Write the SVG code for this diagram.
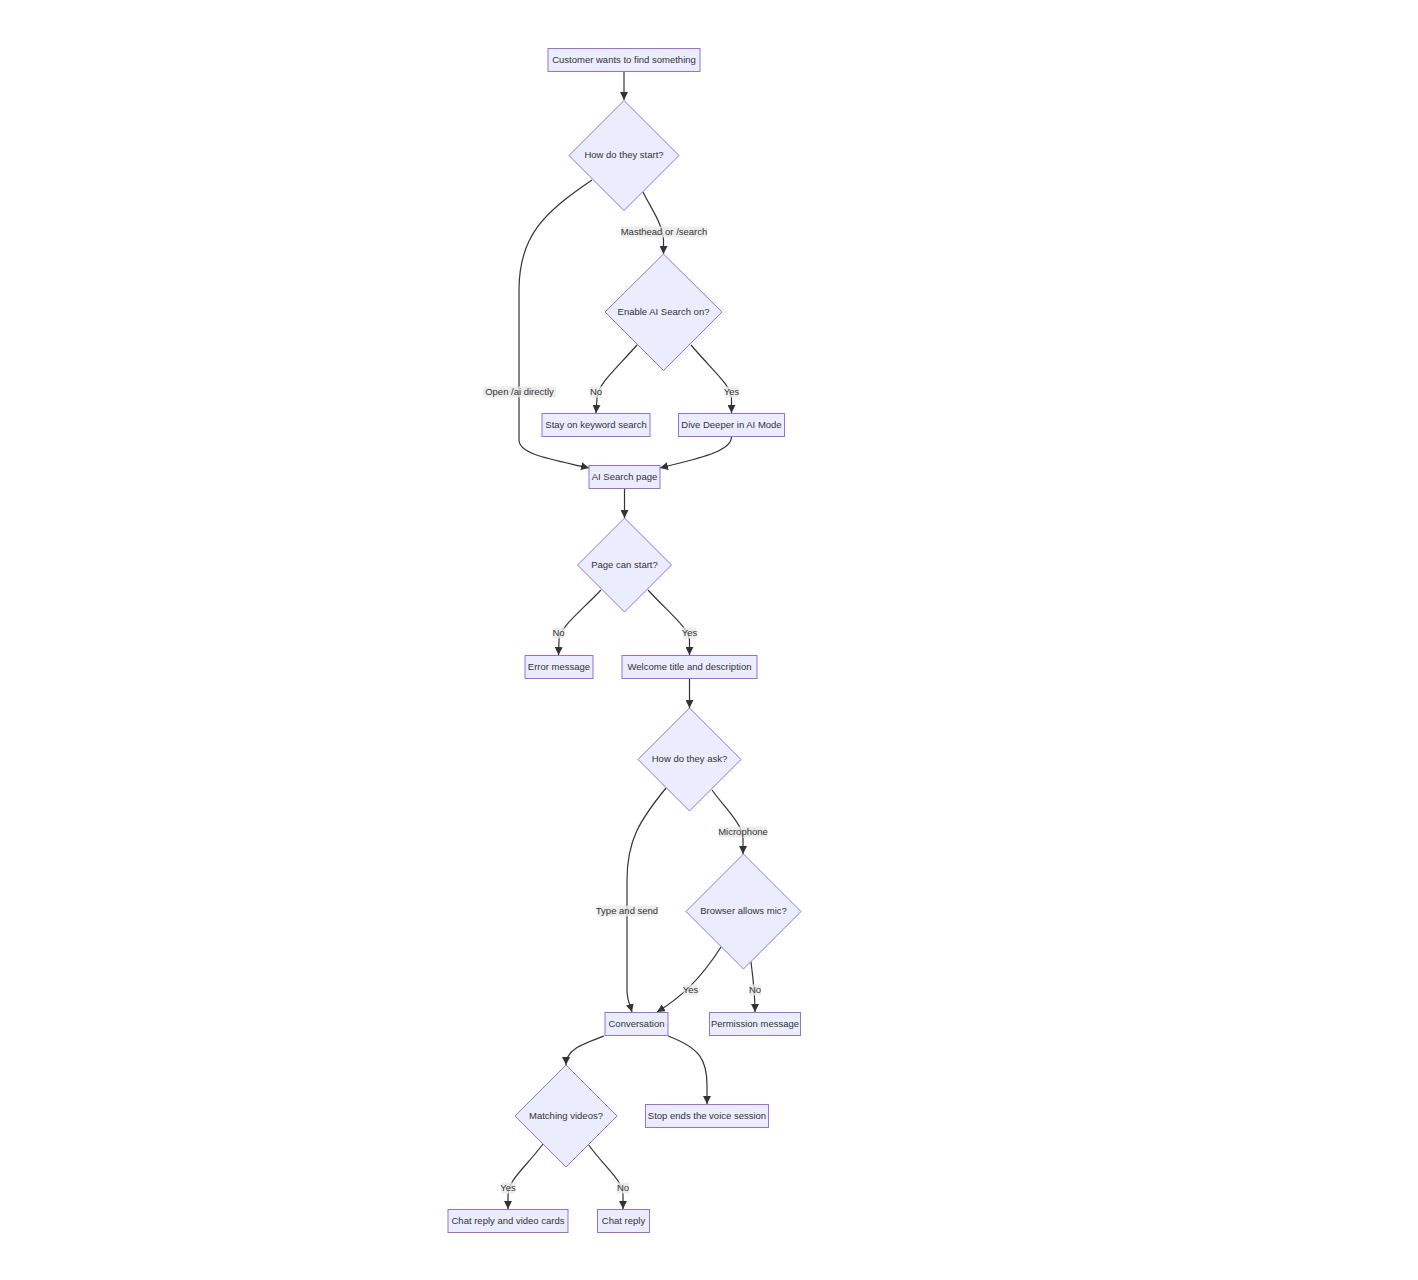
<svg xmlns="http://www.w3.org/2000/svg" width="1418" height="1280" viewBox="0 0 1418 1280">
<style>
.node rect, .node polygon { fill: #ECECFF; stroke: #9370DB; stroke-width: 1; }
.node text { font-family: "Liberation Sans", Arial, sans-serif; font-size: 9.5px; fill: #333; text-anchor: middle; dominant-baseline: central; }
.edge { fill: none; stroke: #333; stroke-width: 1.2; marker-end: url(#arrow); }
.lbl rect { fill: #e8e8e8; fill-opacity: 0.8; }
.lbl text { font-family: "Liberation Sans", Arial, sans-serif; font-size: 9.5px; fill: #333; text-anchor: middle; dominant-baseline: central; }
</style>
<defs>
<marker id="arrow" viewBox="0 0 10 10" refX="10" refY="5" markerUnits="userSpaceOnUse" markerWidth="8" markerHeight="8" orient="auto">
<path d="M0,0 L10,5 L0,10 z" fill="#333"/>
</marker>
</defs>
<rect width="1418" height="1280" fill="#ffffff"/>
<g id="connectors">
<path class="edge" d="M624,71 L624,100"/>
<path class="edge" d="M643,192 C652,210 663,225 663.5,240 L663.5,254"/>
<path class="edge" d="M592,180 C545,212 519,235 519,290 L519,440 C519,455 555,460 589,468"/>
<path class="edge" d="M637,345 C615,370 597,385 597,398 L596,413"/>
<path class="edge" d="M691,345 C712,370 731,385 731.5,398 L731.5,413"/>
<path class="edge" d="M731.5,437 C731.5,452 695,459 660,468"/>
<path class="edge" d="M624.5,489 L624.5,518"/>
<path class="edge" d="M601,590 C580,612 559,628 559,640 L558.5,655"/>
<path class="edge" d="M648,590 C668,612 689,628 689.5,640 L689.5,655"/>
<path class="edge" d="M689.5,678 L689.5,708"/>
<path class="edge" d="M712,790 C725,808 743,825 743,838 L743,854"/>
<path class="edge" d="M666,788 C640,820 627,840 627,880 L627,990 C627,1000 630,1005 632,1012"/>
<path class="edge" d="M721,947 C700,980 680,998 657,1012"/>
<path class="edge" d="M751,962 C754,985 755,995 755,1012"/>
<path class="edge" d="M604,1036 C580,1045 566,1050 566,1065"/>
<path class="edge" d="M668,1036 C700,1048 707,1060 707,1085 L707,1104"/>
<path class="edge" d="M543,1144 C525,1168 508,1180 508,1195 L508,1209"/>
<path class="edge" d="M588,1144 C605,1168 623,1180 623,1195 L623,1209"/>
</g>
<g id="edge-labels">
<g class="lbl"><rect x="621" y="226.5" width="86" height="11"/><text x="664" y="231">Masthead or /search</text></g>
<g class="lbl"><rect x="483" y="386.5" width="73" height="11"/><text x="519.5" y="391">Open /ai directly</text></g>
<g class="lbl"><rect x="590" y="386.5" width="12" height="11"/><text x="596" y="391">No</text></g>
<g class="lbl"><rect x="724.5" y="386.5" width="14" height="11"/><text x="731.5" y="391">Yes</text></g>
<g class="lbl"><rect x="552.5" y="627.5" width="12" height="11"/><text x="558.5" y="632">No</text></g>
<g class="lbl"><rect x="682.5" y="627.5" width="14" height="11"/><text x="689.5" y="632">Yes</text></g>
<g class="lbl"><rect x="719" y="826.5" width="48" height="11"/><text x="743" y="831">Microphone</text></g>
<g class="lbl"><rect x="597" y="905.5" width="60" height="11"/><text x="627" y="910">Type and send</text></g>
<g class="lbl"><rect x="683.5" y="984.5" width="14" height="11"/><text x="690.5" y="989">Yes</text></g>
<g class="lbl"><rect x="749" y="984.5" width="12" height="11"/><text x="755" y="989">No</text></g>
<g class="lbl"><rect x="501" y="1182.5" width="14" height="11"/><text x="508" y="1187">Yes</text></g>
<g class="lbl"><rect x="617" y="1182.5" width="12" height="11"/><text x="623" y="1187">No</text></g>
</g>
<g id="n-start" class="node"><rect x="548" y="48.5" width="152" height="23"/><text x="624" y="59">Customer wants to find something</text></g>
<g id="n-how-start" class="node"><polygon points="624,100.5 679,155.5 624,210.5 569,155.5"/><text x="624" y="154.5">How do they start?</text></g>
<g id="n-enable" class="node"><polygon points="663.5,254 722,312 663.5,370.5 605,312"/><text x="663.5" y="311">Enable AI Search on?</text></g>
<g id="n-stay" class="node"><rect x="542" y="413.5" width="108" height="23"/><text x="596" y="424">Stay on keyword search</text></g>
<g id="n-dive" class="node"><rect x="678.5" y="413.5" width="106" height="23"/><text x="731.5" y="424">Dive Deeper in AI Mode</text></g>
<g id="n-aipage" class="node"><rect x="589" y="465.5" width="71" height="23"/><text x="624.5" y="476">AI Search page</text></g>
<g id="n-pagestart" class="node"><polygon points="624.5,518 671.5,565 624.5,612 577.5,565"/><text x="624.5" y="564">Page can start?</text></g>
<g id="n-error" class="node"><rect x="525" y="655.5" width="68" height="23"/><text x="559" y="666">Error message</text></g>
<g id="n-welcome" class="node"><rect x="622" y="655.5" width="135" height="23"/><text x="689.5" y="666">Welcome title and description</text></g>
<g id="n-howask" class="node"><polygon points="689.5,708 741,759.5 689.5,811 638,759.5"/><text x="689.5" y="758.5">How do they ask?</text></g>
<g id="n-mic" class="node"><polygon points="743.5,854 801,911.5 743.5,969 686,911.5"/><text x="743.5" y="910.5">Browser allows mic?</text></g>
<g id="n-conv" class="node"><rect x="605" y="1012.5" width="63" height="23"/><text x="636.5" y="1023">Conversation</text></g>
<g id="n-perm" class="node"><rect x="709.5" y="1012.5" width="91" height="23"/><text x="755" y="1023">Permission message</text></g>
<g id="n-match" class="node"><polygon points="566,1065 617,1116 566,1167 515,1116"/><text x="566" y="1115">Matching videos?</text></g>
<g id="n-stop" class="node"><rect x="645.5" y="1104.5" width="123" height="23"/><text x="707" y="1115">Stop ends the voice session</text></g>
<g id="n-cards" class="node"><rect x="448" y="1209.5" width="120" height="23"/><text x="508" y="1220">Chat reply and video cards</text></g>
<g id="n-chat" class="node"><rect x="597.5" y="1209.5" width="52" height="23"/><text x="623.5" y="1220">Chat reply</text></g>
</svg>
